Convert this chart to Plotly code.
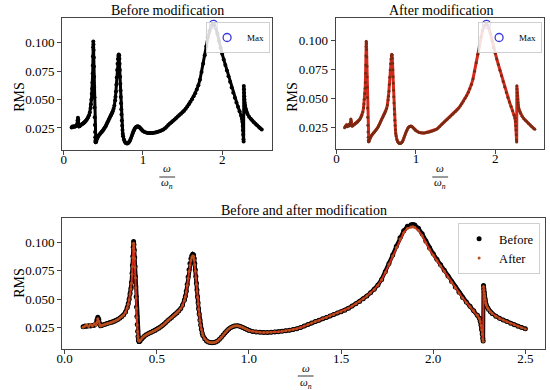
import plotly.graph_objects as go

# ---------------- data ----------------
freq = [0.10, 0.11, 0.12, 0.13, 0.14, 0.15, 0.16, 0.17, 0.175, 0.18, 0.185, 0.19, 0.195,
        0.20, 0.21, 0.22, 0.23, 0.24, 0.25, 0.26, 0.27, 0.28, 0.29, 0.30, 0.31, 0.32, 0.33,
        0.34, 0.345, 0.35, 0.355, 0.36, 0.363, 0.366, 0.368, 0.370, 0.372, 0.374, 0.376,
        0.378, 0.380, 0.382, 0.384, 0.386, 0.388, 0.390, 0.392, 0.394, 0.396, 0.398, 0.400,
        0.403, 0.406, 0.41, 0.42, 0.43, 0.44, 0.45, 0.46, 0.47, 0.48, 0.49, 0.50, 0.51, 0.52,
        0.53, 0.54, 0.55, 0.56, 0.57, 0.58, 0.59, 0.60, 0.61, 0.62, 0.63, 0.64, 0.65, 0.655,
        0.66, 0.665, 0.67, 0.675, 0.68, 0.685, 0.69, 0.695, 0.70, 0.703, 0.706, 0.709, 0.712,
        0.715, 0.718, 0.721, 0.724, 0.727, 0.730, 0.734, 0.738, 0.742, 0.746, 0.75, 0.76,
        0.77, 0.78, 0.79, 0.80, 0.81, 0.82, 0.83, 0.84, 0.85, 0.86, 0.87, 0.88, 0.89, 0.90,
        0.91, 0.92, 0.93, 0.94, 0.95, 0.96, 0.97, 0.98, 0.99, 1.00, 1.02, 1.04, 1.06, 1.08,
        1.10, 1.12, 1.14, 1.16, 1.18, 1.20, 1.22, 1.24, 1.26, 1.28, 1.30, 1.32, 1.34, 1.36,
        1.38, 1.40, 1.42, 1.44, 1.46, 1.48, 1.50, 1.52, 1.54, 1.56, 1.58, 1.60, 1.62, 1.64,
        1.66, 1.68, 1.70, 1.72, 1.74, 1.76, 1.78, 1.80, 1.82, 1.84, 1.86, 1.88, 1.89, 1.90,
        1.92, 1.94, 1.96, 1.98, 2.00, 2.02, 2.04, 2.06, 2.08, 2.10, 2.12, 2.14, 2.16, 2.18,
        2.20, 2.22, 2.24, 2.25, 2.255, 2.26, 2.263, 2.266, 2.269, 2.271, 2.273, 2.275, 2.277,
        2.279, 2.281, 2.284, 2.288, 2.295, 2.30, 2.31, 2.32, 2.34, 2.36, 2.38, 2.40, 2.42,
        2.44, 2.46, 2.48, 2.50]

rms_before = [0.0255, 0.0262, 0.0260, 0.0264, 0.0261, 0.0266, 0.0268, 0.0285, 0.0315, 0.0340,
              0.0322, 0.0280, 0.0264, 0.0266, 0.0272, 0.0278, 0.0283, 0.0288, 0.0292, 0.0298,
              0.0305, 0.0313, 0.0322, 0.0333, 0.0346, 0.0362, 0.0386, 0.0425, 0.0458, 0.0500,
              0.0550, 0.0595, 0.0650, 0.0730, 0.0800, 0.0880, 0.0960, 0.1010, 0.0985, 0.0935,
              0.0870, 0.0790, 0.0700, 0.0610, 0.0520, 0.0430, 0.0345, 0.0275, 0.0215, 0.0168,
              0.0138, 0.0124, 0.0124, 0.0132, 0.0152, 0.0168, 0.0181, 0.0191, 0.0200, 0.0207,
              0.0215, 0.0223, 0.0232, 0.0242, 0.0253, 0.0266, 0.0280, 0.0295, 0.0310, 0.0324,
              0.0338, 0.0352, 0.0366, 0.0380, 0.0396, 0.0418, 0.0448, 0.0492, 0.0525, 0.0570,
              0.0630, 0.0695, 0.0760, 0.0815, 0.0857, 0.0884, 0.0897, 0.0890, 0.0860, 0.0815,
              0.0760, 0.0700, 0.0640, 0.0580, 0.0522, 0.0467, 0.0415, 0.0368, 0.0315, 0.0270,
              0.0232, 0.0200, 0.0178, 0.0148, 0.0130, 0.0120, 0.0115, 0.0114, 0.0116, 0.0121,
              0.0130, 0.0144, 0.0162, 0.0182, 0.0202, 0.0220, 0.0235, 0.0247, 0.0256, 0.0261,
              0.0264, 0.0263, 0.0260, 0.0254, 0.0246, 0.0238, 0.0230, 0.0223, 0.0214, 0.0209,
              0.0206, 0.0205, 0.0205, 0.0206, 0.0208, 0.0211, 0.0215, 0.0219, 0.0224, 0.0230,
              0.0237, 0.0248, 0.0261, 0.0275, 0.0289, 0.0301, 0.0313, 0.0325, 0.0337, 0.0350,
              0.0363, 0.0376, 0.0389, 0.0402, 0.0420, 0.0438, 0.0458, 0.0480, 0.0503, 0.0528,
              0.0556, 0.0588, 0.0626, 0.0675, 0.0742, 0.0815, 0.0890, 0.0968, 0.1045, 0.1105,
              0.1145, 0.1160, 0.1162, 0.1156, 0.1128, 0.1080, 0.1015, 0.0955, 0.0903, 0.0853,
              0.0805, 0.0756, 0.0706, 0.0656, 0.0607, 0.0560, 0.0515, 0.0475, 0.0436, 0.0398,
              0.0358, 0.0332, 0.0305, 0.0268, 0.0230, 0.0190, 0.0150, 0.0130, 0.0620, 0.0590,
              0.0560, 0.0530, 0.0500, 0.0472, 0.0450, 0.0425, 0.0410, 0.0390, 0.0373, 0.0349,
              0.0330, 0.0315, 0.0301, 0.0287, 0.0273, 0.0260, 0.0248, 0.0237]

rms_after = [0.0250, 0.0262, 0.0270, 0.0258, 0.0276, 0.0262, 0.0282, 0.0268, 0.0292, 0.0325,
             0.0305, 0.0275, 0.0262, 0.0266, 0.0271, 0.0277, 0.0282, 0.0287, 0.0291, 0.0297,
             0.0304, 0.0312, 0.0321, 0.0332, 0.0345, 0.0360, 0.0384, 0.0422, 0.0455, 0.0495,
             0.0545, 0.0590, 0.0640, 0.0720, 0.0790, 0.0870, 0.0950, 0.0995, 0.0975, 0.0925,
             0.0860, 0.0780, 0.0690, 0.0600, 0.0510, 0.0420, 0.0340, 0.0270, 0.0212, 0.0168,
             0.0140, 0.0128, 0.0128, 0.0136, 0.0155, 0.0170, 0.0182, 0.0192, 0.0200, 0.0207,
             0.0215, 0.0223, 0.0232, 0.0242, 0.0253, 0.0266, 0.0280, 0.0295, 0.0310, 0.0324,
             0.0337, 0.0351, 0.0365, 0.0379, 0.0394, 0.0416, 0.0445, 0.0488, 0.0520, 0.0565,
             0.0622, 0.0685, 0.0748, 0.0802, 0.0843, 0.0870, 0.0882, 0.0877, 0.0848, 0.0805,
             0.0750, 0.0690, 0.0632, 0.0573, 0.0516, 0.0462, 0.0411, 0.0365, 0.0313, 0.0268,
             0.0231, 0.0200, 0.0178, 0.0148, 0.0130, 0.0120, 0.0115, 0.0114, 0.0116, 0.0121,
             0.0130, 0.0144, 0.0162, 0.0182, 0.0202, 0.0220, 0.0235, 0.0247, 0.0256, 0.0261,
             0.0264, 0.0263, 0.0260, 0.0254, 0.0246, 0.0238, 0.0230, 0.0223, 0.0216, 0.0209,
             0.0206, 0.0205, 0.0205, 0.0206, 0.0210, 0.0211, 0.0215, 0.0219, 0.0224, 0.0230,
             0.0237, 0.0248, 0.0261, 0.0275, 0.0289, 0.0301, 0.0313, 0.0325, 0.0337, 0.0350,
             0.0363, 0.0376, 0.0389, 0.0402, 0.0420, 0.0438, 0.0458, 0.0480, 0.0503, 0.0527,
             0.0555, 0.0586, 0.0623, 0.0671, 0.0737, 0.0809, 0.0882, 0.0958, 0.1032, 0.1089,
             0.1127, 0.1140, 0.1141, 0.1135, 0.1108, 0.1062, 0.0999, 0.0940, 0.0890, 0.0841,
             0.0794, 0.0746, 0.0697, 0.0648, 0.0600, 0.0554, 0.0510, 0.0471, 0.0433, 0.0396,
             0.0357, 0.0331, 0.0304, 0.0267, 0.0229, 0.0188, 0.0146, 0.0126, 0.0612, 0.0583,
             0.0554, 0.0525, 0.0496, 0.0468, 0.0447, 0.0423, 0.0408, 0.0389, 0.0372, 0.0348,
             0.0329, 0.0314, 0.0300, 0.0286, 0.0272, 0.0259, 0.0247, 0.0236]

titles = ["Before modification", "After modification", "Before and after modification"]
y_ticks = [0.025, 0.050, 0.075, 0.100]
x_ticks_top = [0, 1, 2]
x_ticks_bottom = [0.0, 0.5, 1.0, 1.5, 2.0, 2.5]

# ---------------- figure ----------------
W, H = 550, 390
FONT = "Liberation Serif, Times New Roman, serif"
BLACK = "#000000"
AFTER_LINE = "#d42a1c"
AFTER_DOT = "#7a2a12"
MAX_COL = "#3a3ad8"


def px_x(p):
    return p / W


def px_y(p):
    return 1 - p / H


i_b = max(range(len(rms_before)), key=lambda i: rms_before[i])
i_a = max(range(len(rms_after)), key=lambda i: rms_after[i])

fig = go.Figure()

# top-left: before
fig.add_trace(go.Scatter(x=freq, y=rms_before, mode="lines", line=dict(color=BLACK, width=3),
                         xaxis="x", yaxis="y", showlegend=False, hoverinfo="skip"))
fig.add_trace(go.Scatter(x=freq, y=rms_before, mode="markers", marker=dict(color=BLACK, size=4),
                         xaxis="x", yaxis="y", showlegend=False))
fig.add_trace(go.Scatter(x=[freq[i_b]], y=[rms_before[i_b]], mode="markers", name="Max",
                         marker=dict(symbol="circle-open", size=8, color=MAX_COL, line=dict(width=1.3)),
                         xaxis="x", yaxis="y", legend="legend"))

# top-right: after
fig.add_trace(go.Scatter(x=freq, y=rms_after, mode="lines", line=dict(color=AFTER_LINE, width=3),
                         xaxis="x2", yaxis="y2", showlegend=False, hoverinfo="skip"))
fig.add_trace(go.Scatter(x=freq, y=rms_after, mode="markers", marker=dict(color=AFTER_DOT, size=3),
                         xaxis="x2", yaxis="y2", showlegend=False))
fig.add_trace(go.Scatter(x=[freq[i_a]], y=[rms_after[i_a]], mode="markers", name="Max",
                         marker=dict(symbol="circle-open", size=8, color=MAX_COL, line=dict(width=1.3)),
                         xaxis="x2", yaxis="y2", legend="legend2"))

# bottom: before and after
fig.add_trace(go.Scatter(x=freq, y=rms_before, mode="lines", line=dict(color=BLACK, width=4),
                         xaxis="x3", yaxis="y3", showlegend=False, hoverinfo="skip"))
fig.add_trace(go.Scatter(x=freq, y=rms_before, mode="markers", name="Before",
                         marker=dict(color=BLACK, size=5), xaxis="x3", yaxis="y3", legend="legend3"))
fig.add_trace(go.Scatter(x=freq, y=rms_after, mode="lines", line=dict(color=AFTER_LINE, width=2),
                         xaxis="x3", yaxis="y3", showlegend=False, hoverinfo="skip"))
fig.add_trace(go.Scatter(x=freq, y=rms_after, mode="markers", name="After",
                         marker=dict(color="#b8501e", size=3), xaxis="x3", yaxis="y3", legend="legend3"))

axis_common = dict(showline=True, mirror=True, linecolor="#444444", linewidth=1,
                   ticks="outside", ticklen=4, tickwidth=0.9, tickcolor="#444444",
                   showgrid=False, zeroline=False,
                   tickfont=dict(family=FONT, size=13, color="black"))
xaxis_extra = dict(ticklabelstandoff=-7)

legend_common = dict(xanchor="right", yanchor="top", bgcolor="rgba(255,255,255,0.85)",
                     bordercolor="#d0d0d0", borderwidth=1, itemwidth=30, tracegroupgap=0)

fig.update_layout(
    width=W, height=H,
    margin=dict(l=0, r=0, t=0, b=0),
    paper_bgcolor="white", plot_bgcolor="white",
    font=dict(family=FONT, color="black"),
    xaxis=dict(domain=[px_x(56.7), px_x(269)], range=[-0.02, 2.63], tickvals=x_ticks_top,
               tickformat="d", anchor="y", **axis_common, **xaxis_extra),
    yaxis=dict(domain=[px_y(150), px_y(18.3)], range=[0.0056, 0.1215], tickvals=y_ticks,
               tickformat=".3f", anchor="x", **axis_common),
    xaxis2=dict(domain=[px_x(333.3), px_x(544.3)], range=[-0.012, 2.62], tickvals=x_ticks_top,
                tickformat="d", anchor="y2", **axis_common, **xaxis_extra),
    yaxis2=dict(domain=[px_y(149), px_y(18.3)], range=[0.0066, 0.1193], tickvals=y_ticks,
                tickformat=".3f", anchor="x2", **axis_common),
    xaxis3=dict(domain=[px_x(56.7), px_x(545)], range=[-0.014, 2.607], tickvals=x_ticks_bottom,
                tickformat=".1f", anchor="y3", **axis_common, **xaxis_extra),
    yaxis3=dict(domain=[px_y(349), px_y(218)], range=[0.0058, 0.1219], tickvals=y_ticks,
                tickformat=".3f", anchor="x3", **axis_common),
    legend=dict(x=px_x(267), y=px_y(22), font=dict(family=FONT, size=9), **legend_common),
    legend2=dict(x=px_x(542), y=px_y(22), font=dict(family=FONT, size=9), **legend_common),
    legend3=dict(x=px_x(540), y=px_y(223), font=dict(family=FONT, size=12.5), **legend_common),
)

annotations = []
# titles
for text, cx, cy in [(titles[0], 163, 10), (titles[1], 440, 10), (titles[2], 301, 210)]:
    annotations.append(dict(text=text, x=px_x(cx), y=px_y(cy), xref="paper", yref="paper",
                            xanchor="center", yanchor="middle", showarrow=False,
                            font=dict(family=FONT, size=14, color="black")))
# RMS labels
for cx, cy in [(13, 97), (289, 97), (13, 283)]:
    annotations.append(dict(text="RMS", x=px_x(cx), y=px_y(cy), xref="paper", yref="paper",
                            xanchor="center", yanchor="middle", showarrow=False, textangle=-90,
                            font=dict(family=FONT, size=14, color="black")))
# omega / omega_n fraction labels
shapes = []
for cx, cy in [(163, 177), (439, 177), (303, 376)]:
    annotations.append(dict(text="<i>ω</i><br><i>ω<sub>n</sub></i>", x=px_x(cx), y=px_y(cy),
                            xref="paper", yref="paper", xanchor="center", yanchor="middle",
                            showarrow=False, font=dict(family=FONT, size=11, color="black")))
    shapes.append(dict(type="line", xref="paper", yref="paper", x0=px_x(cx - 8), x1=px_x(cx + 8),
                       y0=px_y(cy), y1=px_y(cy), line=dict(color="black", width=0.8)))

fig.update_layout(annotations=annotations, shapes=shapes)

fig.write_html("out.html", config={"displayModeBar": False},
               post_script="document.body.style.margin='0';")
